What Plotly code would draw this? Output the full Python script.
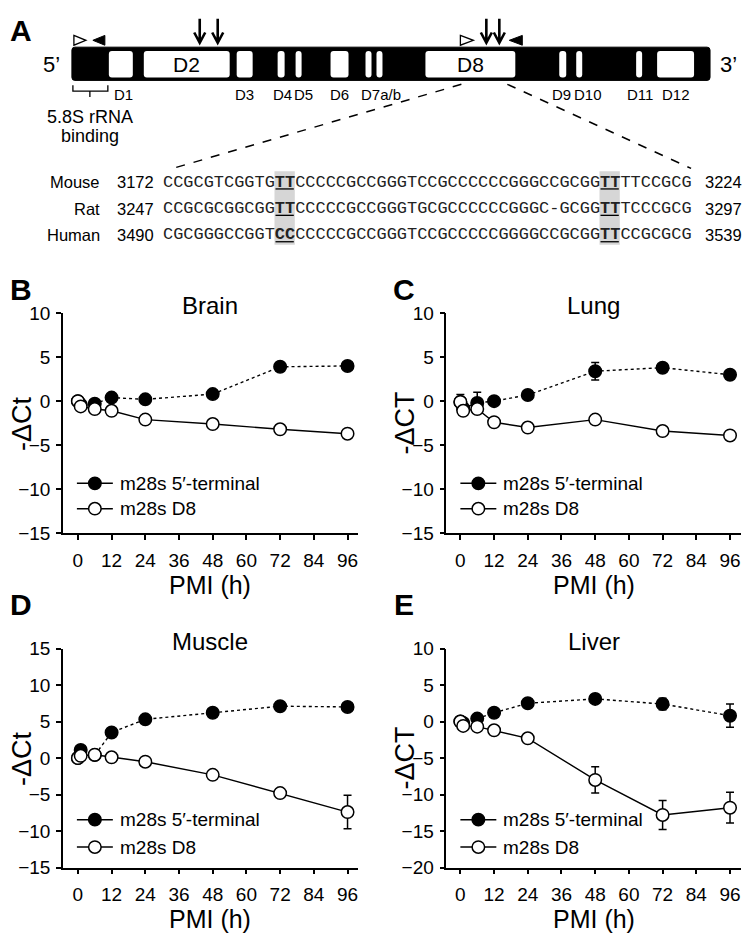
import plotly.graph_objects as go

W, H = 743, 947
FONT = "Liberation Sans, Arial, sans-serif"
MONO = "Liberation Mono, Courier New, monospace"

# ---------------- data ----------------
hours = [0, 1, 6, 12, 24, 48, 72, 96]
x_ticks = [0, 12, 24, 36, 48, 60, 72, 84, 96]

brain_term = [0.0, -0.4, -0.3, 0.4, 0.2, 0.8, 3.9, 4.0]
brain_term_err = [0.2, 0.2, 0.2, 0.2, 0.2, 0.3, 0.3, 0.3]
brain_d8 = [0.0, -0.6, -0.9, -1.1, -2.1, -2.6, -3.2, -3.7]
brain_d8_err = [0.2, 0.2, 0.2, 0.2, 0.2, 0.2, 0.3, 0.3]

lung_term = [-0.1, -0.8, -0.2, 0.0, 0.7, 3.4, 3.8, 3.0]
lung_term_err = [0.85, 0.3, 1.2, 0.2, 0.3, 1.0, 0.4, 0.4]
lung_d8 = [-0.1, -1.1, -0.9, -2.4, -3.0, -2.1, -3.4, -3.9]
lung_d8_err = [0.2, 0.3, 0.3, 0.2, 0.2, 0.3, 0.3, 0.3]

muscle_term = [0.0, 1.1, 0.4, 3.5, 5.3, 6.2, 7.1, 7.0]
muscle_term_err = [0.2, 0.3, 0.2, 0.3, 0.3, 0.3, 0.3, 0.3]
muscle_d8 = [0.0, 0.3, 0.45, 0.1, -0.5, -2.3, -4.8, -7.4]
muscle_d8_err = [0.2, 0.2, 0.2, 0.2, 0.3, 0.4, 0.4, 2.3]

liver_term = [0.0, -0.2, 0.4, 1.2, 2.5, 3.1, 2.4, 0.8]
liver_term_err = [0.2, 0.2, 0.2, 0.2, 0.3, 0.6, 0.8, 1.6]
liver_d8 = [0.0, -0.6, -0.7, -1.2, -2.3, -8.0, -12.8, -11.8]
liver_d8_err = [0.2, 0.2, 0.2, 0.3, 0.4, 1.8, 2.0, 2.1]

series_names = ["m28s 5\u2032-terminal", "m28s D8"]

# panel A texts
domain_labels = ["D1", "D3", "D4", "D5", "D6", "D7a/b", "D9", "D10", "D11", "D12"]
seq_species = ["Mouse", "Rat", "Human"]
seq_start = ["3172", "3247", "3490"]
seq_end = ["3224", "3297", "3539"]
seq_parts = [
    ["CCGCGTCGGTG", "TT", "CCCCCGCCGGGTCCGCCCCCCGGGCCGCGG", "TT", "TTCCGCG"],
    ["CCGCGCGGCGG", "TT", "CCCCCGCCGGGTGCGCCCCCCGGGC-GCGG", "TT", "TCCCGCG"],
    ["CGCGGGCCGGT", "CC", "CCCCCGCCGGGTCCGCCCCCGGGGCCGCGG", "TT", "CCGCGCG"],
]

# ---------------- layout geometry (pixels) ----------------
panels = [
    dict(title="Brain", ytitle="-\u0394Ct", letter="B", left=63, right=358, top=310, bottom=535,
         x0px=78, x96px=348, yrange=(-15, 10), term=brain_term, term_err=brain_term_err,
         d8=brain_d8, d8_err=brain_d8_err, leg=(484, 510), title_y=302, letter_y=286),
    dict(title="Lung", ytitle="-\u0394CT", letter="C", left=447, right=742, top=310, bottom=535,
         x0px=461, x96px=731, yrange=(-15, 10), term=lung_term, term_err=lung_term_err,
         d8=lung_d8, d8_err=lung_d8_err, leg=(484, 510), title_y=302, letter_y=286),
    dict(title="Muscle", ytitle="-\u0394Ct", letter="D", left=63, right=358, top=653, bottom=877,
         x0px=78, x96px=348, yrange=(-15, 15), term=muscle_term, term_err=muscle_term_err,
         d8=muscle_d8, d8_err=muscle_d8_err, leg=(828, 856), title_y=646, letter_y=608),
    dict(title="Liver", ytitle="-\u0394CT", letter="E", left=447, right=742, top=653, bottom=877,
         x0px=461, x96px=731, yrange=(-20, 10), term=liver_term, term_err=liver_term_err,
         d8=liver_d8, d8_err=liver_d8_err, leg=(828, 856), title_y=646, letter_y=608),
]

fig = go.Figure()
annotations = []
shapes = []

MS = 12.5
LW = 1.4

def ann(x, y, text, size, xanchor="center", yanchor="middle", bold=False, angle=0, family=FONT):
    annotations.append(dict(
        x=x, y=y, xref="x5", yref="y5", text=("<b>%s</b>" % text) if bold else text,
        showarrow=False, xanchor=xanchor, yanchor=yanchor, textangle=angle,
        font=dict(size=size, family=family, color="black")))

def sh(**kw):
    d = dict(xref="x5", yref="y5", layer="above")
    d.update(kw)
    shapes.append(d)

for i, p in enumerate(panels):
    k = i + 1
    xs = "" if k == 1 else str(k)
    scale = (p["x96px"] - p["x0px"]) / 96.0
    xr = [-(p["x0px"] - p["left"]) / scale, 96 + (p["right"] - p["x96px"]) / scale]
    common = dict(showline=True, linecolor="black", linewidth=1.5, ticks="outside",
                  ticklen=5, tickwidth=1.5, tickcolor="black", showgrid=False,
                  zeroline=False, tickfont=dict(size=19, family=FONT, color="black"),
                  fixedrange=True)
    fig.update_layout(**{
        "xaxis" + xs: dict(domain=[p["left"] / W, p["right"] / W], range=xr, anchor="y" + xs,
                           tickvals=x_ticks, ticklabelstandoff=4, **common),
        "yaxis" + xs: dict(domain=[1 - p["bottom"] / H, 1 - p["top"] / H], range=list(p["yrange"]),
                           anchor="x" + xs, dtick=5, ticklabelstandoff=2, **common),
    })
    fig.add_trace(go.Scatter(
        x=hours, y=p["term"], xaxis="x" + xs, yaxis="y" + xs, mode="lines+markers",
        line=dict(color="black", width=LW, dash="dot"),
        marker=dict(size=MS, color="black", line=dict(color="black", width=1.5)),
        error_y=dict(type="data", array=p["term_err"], color="black", thickness=1.5, width=4),
        showlegend=False, cliponaxis=False))
    fig.add_trace(go.Scatter(
        x=hours, y=p["d8"], xaxis="x" + xs, yaxis="y" + xs, mode="lines+markers",
        line=dict(color="black", width=LW),
        marker=dict(size=MS, color="white", line=dict(color="black", width=1.5)),
        error_y=dict(type="data", array=p["d8_err"], color="black", thickness=1.5, width=4),
        showlegend=False, cliponaxis=False))
    cx = (p["left"] + p["right"]) / 2
    ann(cx, p["title_y"], p["title"], 24)
    ann(cx, p["bottom"] + 53, "PMI (h)", 25)
    ann(p["left"] - 41, (p["top"] + p["bottom"]) / 2, p["ytitle"], 27, angle=-90)
    ann(p["left"] - 42, p["letter_y"], p["letter"], 30, bold=True)
    # legend (line sample + marker + label)
    for j, (name, fill) in enumerate(zip(series_names, ["black", "white"])):
        ly = p["leg"][j]
        mx = p["left"] + 32
        r = MS / 2.0
        sh(type="line", x0=p["left"] + 14, x1=p["left"] + 50, y0=ly, y1=ly,
           line=dict(color="black", width=1.5))
        sh(type="circle", x0=mx - r, x1=mx + r, y0=ly - r, y1=ly + r,
           fillcolor=fill, line=dict(color="black", width=1.5))
        ann(p["left"] + 55, ly, name, 19, xanchor="left")

# ---------------- panel A diagram ----------------
def rrect(x0, y0, x1, y1, r):
    return ("M%f,%f L%f,%f Q%f,%f %f,%f L%f,%f Q%f,%f %f,%f L%f,%f Q%f,%f %f,%f "
            "L%f,%f Q%f,%f %f,%f Z" % (
                x0 + r, y0, x1 - r, y0, x1, y0, x1, y0 + r, x1, y1 - r, x1, y1, x1 - r, y1,
                x0 + r, y1, x0, y1, x0, y1 - r, x0, y0 + r, x0, y0, x0 + r, y0))

BAR = (72, 38, 711, 72)
sh(type="path", path=rrect(*BAR, 3), fillcolor="black", line=dict(color="black", width=1))
boxes = [(109, 133), (144, 230), (237, 253), (278, 285), (296, 302), (331, 349), (366, 372),
         (377, 383), (426, 516), (560, 567), (577, 583), (637, 643), (658, 695)]
for bx0, bx1 in boxes:
    r = min(3, (bx1 - bx0) / 2.0)
    sh(type="path", path=rrect(bx0, 42, bx1, 69, r), fillcolor="white", line=dict(width=0))
ann(187, 56, "D2", 21)
ann(471, 56, "D8", 21)
ann(52, 56, "5\u2019", 22)
ann(729, 56, "3\u2019", 22)
ann(21, 21, "A", 30, bold=True)

label_x = [124, 245, 283, 304, 340, 382, 562, 589, 641, 677]
for lx, lt in zip(label_x, domain_labels):
    ann(lx, 86, lt, 15)

# bracket + 5.8S text
sh(type="path", path="M73,77 L73,83 L108,83 L108,77 M90,83 L90,89",
   line=dict(color="black", width=1.3))
ann(90, 109, "5.8S rRNA", 18)
ann(90, 129, "binding", 18)

# primer triangles
sh(type="path", path="M74,26 L86,31 L74,36 Z", fillcolor="white", line=dict(color="black", width=1.3))
sh(type="path", path="M105,26 L93,31 L105,36 Z", fillcolor="black", line=dict(color="black", width=1))
sh(type="path", path="M461,26 L474,31 L461,36 Z", fillcolor="white", line=dict(color="black", width=1.3))
sh(type="path", path="M523,26 L510,31 L523,36 Z", fillcolor="black", line=dict(color="black", width=1))

# arrows
for axp in [200, 218, 487, 500]:
    sh(type="path", path="M%f,9 L%f,33 M%f,23 L%f,33.5 L%f,23" % (axp, axp, axp - 5.5, axp, axp + 5.5),
       line=dict(color="black", width=2.6))

# dashed zoom lines
sh(type="line", x0=462, y0=76, x1=173, y1=162, line=dict(color="black", width=1.5, dash="dash"))
sh(type="line", x0=508, y0=76, x1=692, y1=162, line=dict(color="black", width=1.5, dash="dash"))

# sequences
SEQ_SIZE = 16.95
CW = 0.6 * SEQ_SIZE
SX = 163
row_y = [176, 203, 230]
hl_cols = [11, 43]
for c in hl_cols:
    sh(type="rect", x0=SX + c * CW, x1=SX + (c + 2) * CW, y0=165, y1=240,
       fillcolor="#d6d6d6", line=dict(width=0), layer="below")
for ry, sp, s0, s1, parts in zip(row_y, seq_species, seq_start, seq_end, seq_parts):
    ann(102, ry, sp, 16.5, xanchor="right")
    ann(115, ry, s0, 16.5, xanchor="left")
    ann(704, ry, s1, 16.5, xanchor="left")
    txt = parts[0] + "<b>" + parts[1] + "</b>" + parts[2] + "<b>" + parts[3] + "</b>" + parts[4]
    annotations.append(dict(x=SX - 2, y=ry, xref="x5", yref="y5", text=txt, showarrow=False,
                            xanchor="left", yanchor="middle",
                            font=dict(size=SEQ_SIZE, family=MONO, color="#222222")))
    for c in hl_cols:
        sh(type="line", x0=SX + c * CW + 1, x1=SX + (c + 2) * CW - 1, y0=ry + 7, y1=ry + 7,
           line=dict(color="black", width=1.3))

# invisible anchor trace so the pixel-canvas axes exist
fig.add_trace(go.Scatter(x=[0], y=[0], xaxis="x5", yaxis="y5", mode="markers",
                         marker=dict(size=1, opacity=0), showlegend=False, hoverinfo="skip"))

fig.update_layout(
    xaxis5=dict(domain=[0, 1], range=[0, W], visible=False, anchor="y5", fixedrange=True),
    yaxis5=dict(domain=[0, 1], range=[H, 0], visible=False, anchor="x5", fixedrange=True),
    width=W, height=H, margin=dict(l=0, r=0, t=0, b=0),
    paper_bgcolor="white", plot_bgcolor="rgba(0,0,0,0)",
    font=dict(family=FONT, color="black"),
    annotations=annotations, shapes=shapes, showlegend=False,
)

fig.write_html("out.html", config={"displayModeBar": False},
               post_script="document.body.style.margin='0';document.body.style.overflow='hidden';")
